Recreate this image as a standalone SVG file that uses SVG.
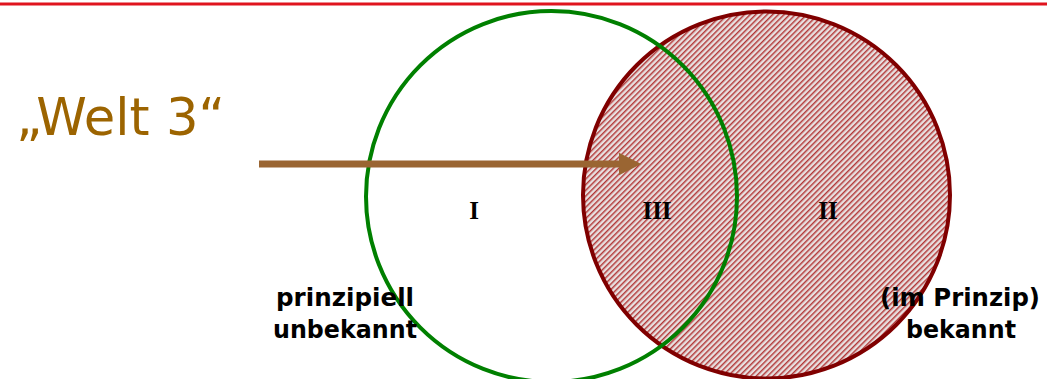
<svg xmlns="http://www.w3.org/2000/svg" width="1047" height="379" viewBox="0 0 1047 379">
<defs>
<pattern id="hatch" width="4" height="4" patternUnits="userSpaceOnUse" patternTransform="rotate(45)">
<rect width="4" height="4" fill="#e8e0e0"/>
<line x1="0.8" y1="0" x2="0.8" y2="4" stroke="#a00000" stroke-width="1.1"/>
</pattern>
<marker id="ah" viewBox="0 0 10 10" refX="0" refY="5" markerWidth="3.4" markerHeight="3.2" orient="auto" markerUnits="strokeWidth">
<path d="M0,0 L10,5 L0,10 Z" fill="#9a6532"/>
</marker>
<style>
.lbl{font-family:"DejaVu Sans","Liberation Sans",sans-serif;font-weight:bold;font-size:25px;fill:#000;text-anchor:middle}
.rn{font-family:"Liberation Serif",serif;font-weight:bold;font-size:25px;fill:#000;text-anchor:middle}
</style>
</defs>
<rect width="1047" height="379" fill="#fff"/>
<line x1="0" y1="4" x2="1047" y2="4" stroke="#e0141e" stroke-width="3"/>
<g id="set-II">
<circle cx="766.5" cy="195" r="183.5" fill="url(#hatch)" stroke="#800000" stroke-width="4"/>
</g>
<g id="set-I">
<circle cx="551.5" cy="196.5" r="185.5" fill="none" stroke="#008000" stroke-width="4"/>
</g>
<g id="connectors">
<line x1="259" y1="164" x2="619" y2="164" stroke="#9a6532" stroke-width="7" marker-end="url(#ah)"/>
</g>
<g id="welt3">
<text x="16" y="135" font-family="'Comic Sans MS','DejaVu Sans','Liberation Sans',sans-serif" font-size="52" fill="#9c6400" textLength="209" lengthAdjust="spacingAndGlyphs">„Welt 3“</text>
</g>
<g id="region-labels">
<text class="rn" x="474" y="219">I</text>
<text class="rn" x="657" y="219">III</text>
<text class="rn" x="828" y="219">II</text>
</g>
<g id="label-unknown">
<text class="lbl" x="345" y="306" textLength="138" lengthAdjust="spacingAndGlyphs">prinzipiell</text>
<text class="lbl" x="345" y="338" textLength="144" lengthAdjust="spacingAndGlyphs">unbekannt</text>
</g>
<g id="label-known">
<text class="lbl" x="960" y="306" textLength="160" lengthAdjust="spacingAndGlyphs">(im Prinzip)</text>
<text class="lbl" x="961" y="338" textLength="110" lengthAdjust="spacingAndGlyphs">bekannt</text>
</g>
</svg>
